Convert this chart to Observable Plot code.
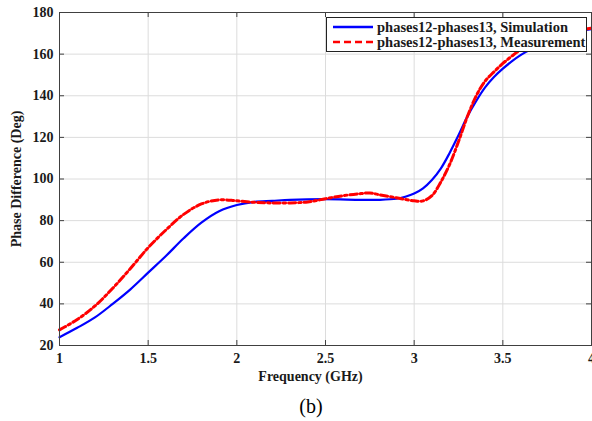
<!DOCTYPE html>
<html>
<head>
<meta charset="utf-8">
<script src="https://cdn.jsdelivr.net/npm/d3@7"></script>
<script src="https://cdn.jsdelivr.net/npm/@observablehq/plot@0.6"></script>
<style>
  body { margin: 0; background: #fff; }
  #wrap { position: relative; width: 592px; height: 421px; }
  #chart svg { display: block; }
  #legend {
    position: absolute; left: 326px; top: 17px; width: 259px; height: 33px;
    border: 1px solid #222; background: #fff;
    font: bold 14.5px "Liberation Serif", "Times New Roman", serif; color: #1a1a1a;
  }
  .row { position: absolute; left: 0; height: 16px; line-height: 16px; white-space: nowrap; }
  .row svg { position: absolute; left: 6px; top: 3px; }
  .row span { position: absolute; left: 50px; }
  #caption {
    position: absolute; left: 261px; width: 100px; top: 393px; text-align: center;
    font: 20px "Liberation Serif", "Times New Roman", serif; color: #000; line-height: 26px;
  }
</style>
</head>
<body>
<div id="wrap">
  <div id="chart"></div>
  <div id="legend">
    <div class="row" style="top:1px"><svg width="40" height="10"><line x1="0" y1="5" x2="40" y2="5" stroke="#0000ff" stroke-width="2.5"/></svg><span>phases12-phases13, Simulation</span></div>
    <div class="row" style="top:16px"><svg width="40" height="10"><line x1="0" y1="5" x2="40" y2="5" stroke="#ff0000" stroke-width="2.5" stroke-dasharray="7,4"/></svg><span>phases12-phases13, Measurement</span></div>
  </div>
  <div id="caption">(b)</div>
</div>
<script>
const simFreq = [1.0,1.1,1.2,1.3,1.4,1.5,1.6,1.7,1.8,1.9,2.0,2.1,2.2,2.3,2.5,2.7,2.8,2.9,2.95,3.0,3.05,3.1,3.15,3.2,3.25,3.3,3.35,3.4,3.45,3.5,3.55,3.6,3.65,3.7,3.8,3.9,4.0];
const simPhase = [24,28.5,33.5,40,47,55,63,71.5,79,84.5,87.5,89,89.5,90,90.3,90,90,90.5,91.5,93,95.5,99.5,105,112.5,121,130,137.5,144,149,153,156.5,159.5,162,164.5,168,170.5,172];
const measFreq = [1.0,1.1,1.2,1.3,1.4,1.5,1.6,1.7,1.8,1.9,2.0,2.1,2.2,2.3,2.4,2.5,2.6,2.7,2.75,2.8,2.9,3.0,3.05,3.1,3.15,3.2,3.25,3.3,3.35,3.4,3.45,3.5,3.55,3.6,3.7,3.8,3.9,4.0];
const measPhase = [27.5,32.5,39,47.5,57,67,75.5,83,88,90,89.5,88.8,88.5,88.5,89,90.5,92,93,93.3,92.5,91,89.5,89.5,92,98.5,107,118,130,140,147,151.5,155.5,159,162,166,169,171,172.5];
const xTicks = [1,1.5,2,2.5,3,3.5,4];
const yTicks = [20,40,60,80,100,120,140,160,180];
const xLabel = "Frequency (GHz)";
const yLabel = "Phase Difference (Deg)";

const sim = simFreq.map((f,i)=>({f, v: simPhase[i]}));
const meas = measFreq.map((f,i)=>({f, v: measPhase[i]}));

const W = 592, H = 392, mL = 59, mR = 1, mT = 12, mB = 47;
const fw = W - mL - mR, fh = H - mT - mB;
const tk = 5;
const axisColor = "#404040";

const chart = Plot.plot({
  width: W, height: H,
  marginLeft: mL, marginRight: mR, marginTop: mT, marginBottom: mB,
  style: { fontFamily: "'Liberation Serif', 'Times New Roman', serif", fontWeight: "bold", fontSize: "14px", color: "#1a1a1a", background: "#fff", overflow: "visible" },
  x: { domain: [1,4] },
  y: { domain: [20,180] },
  marks: [
    Plot.gridX(xTicks, { stroke: "#dcdcdc", strokeOpacity: 1 }),
    Plot.gridY(yTicks, { stroke: "#dcdcdc", strokeOpacity: 1 }),
    Plot.line(sim, { x: "f", y: "v", stroke: "#0000ff", strokeWidth: 2.2, curve: "catmull-rom" }),
    Plot.line(meas, { x: "f", y: "v", stroke: "#ff0000", strokeWidth: 3, strokeDasharray: "7,3,2.5,3", curve: "catmull-rom" }),
    Plot.ruleX(xTicks, { x: d => d, insetTop: fh - tk, stroke: axisColor }),
    Plot.ruleX(xTicks, { x: d => d, insetBottom: fh - tk, stroke: axisColor }),
    Plot.ruleY(yTicks, { y: d => d, insetRight: fw - tk, stroke: axisColor }),
    Plot.ruleY(yTicks, { y: d => d, insetLeft: fw - tk, stroke: axisColor }),
    Plot.frame({ stroke: axisColor }),
    Plot.axisX(xTicks, { tickSize: 0, tickPadding: 8, tickFormat: d => String(d), label: null, fontSize: 14 }),
    Plot.text([xLabel], { text: d => d, frameAnchor: "bottom", dx: -15, dy: 35, fontSize: 14, fontWeight: "bold" }),
    Plot.axisY(yTicks, { tickSize: 0, tickPadding: 6, label: yLabel, labelAnchor: "center", labelArrow: "none", labelOffset: 48, fontSize: 14 })
  ]
});
document.getElementById("chart").appendChild(chart);
</script>
</body>
</html>
